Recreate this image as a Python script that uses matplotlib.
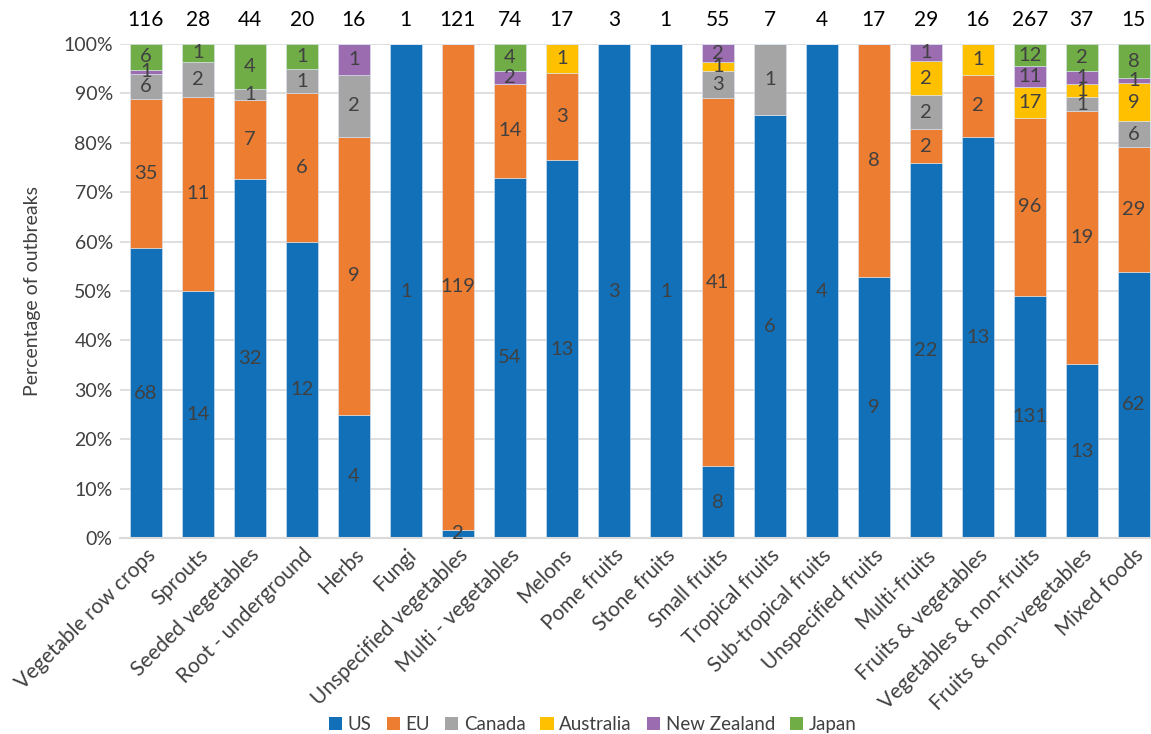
import matplotlib.pyplot as plt
import numpy as np
from matplotlib.ticker import PercentFormatter
from matplotlib.patches import Patch

plt.rcParams['font.family'] = ['Lato', 'DejaVu Sans']

categories = ['Vegetable row crops', 'Sprouts', 'Seeded vegetables', 'Root - underground',
              'Herbs', 'Fungi', 'Unspecified vegetables', 'Multi - vegetables', 'Melons',
              'Pome fruits', 'Stone fruits', 'Small fruits', 'Tropical fruits',
              'Sub-tropical fruits', 'Unspecified fruits', 'Multi-fruits',
              'Fruits & vegetables', 'Vegetables & non-fruits', 'Fruits & non-vegetables',
              'Mixed foods']

us          = [68, 14, 32, 12, 4, 1, 2, 54, 13, 3, 1, 8, 6, 4, 9, 22, 13, 131, 13, 62]
eu          = [35, 11, 7, 6, 9, 0, 119, 14, 3, 0, 0, 41, 0, 0, 8, 2, 2, 96, 19, 29]
canada      = [6, 2, 1, 1, 2, 0, 0, 0, 0, 0, 0, 3, 1, 0, 0, 2, 0, 0, 1, 6]
australia   = [0, 0, 0, 0, 0, 0, 0, 0, 1, 0, 0, 1, 0, 0, 0, 2, 1, 17, 1, 9]
new_zealand = [1, 0, 0, 0, 1, 0, 0, 2, 0, 0, 0, 2, 0, 0, 0, 1, 0, 11, 1, 1]
japan       = [6, 1, 4, 1, 0, 0, 0, 4, 0, 0, 0, 0, 0, 0, 0, 0, 0, 12, 2, 8]

# outbreak counts printed above each column
totals = [116, 28, 44, 20, 16, 1, 121, 74, 17, 3, 1, 55, 7, 4, 17, 29, 16, 267, 37, 15]

series = [('US', us, '#1170b8'),
          ('EU', eu, '#ed7d31'),
          ('Canada', canada, '#a5a5a5'),
          ('Australia', australia, '#ffc000'),
          ('New Zealand', new_zealand, '#9b6cb0'),
          ('Japan', japan, '#70ad47')]

counts = np.array([s[1] for s in series], dtype=float)
row_sum = counts.sum(axis=0)
pct = counts / row_sum * 100

fig = plt.figure(figsize=(11.51, 7.34), dpi=100)
ax = fig.add_axes([0.104, 0.267, 0.9036, 0.673])

x = np.arange(len(categories))
bottom = np.zeros(len(categories))
for (name, vals, color), p in zip(series, pct):
    ax.bar(x, p, width=0.61, bottom=bottom, color=color, edgecolor='#dce6f2',
           linewidth=0.4, label=name, zorder=2)
    for xi, v, b, pp in zip(x, vals, bottom, p):
        if v > 0:
            ax.text(xi, b + pp / 2, str(v), ha='center', va='center',
                    fontsize=14.5, color='#404040', zorder=3)
    bottom += p

for xi, t in zip(x, totals):
    ax.text(xi, 104.8, str(t), ha='center', va='center', fontsize=15, color='black')

ax.set_xlim(-0.5, len(categories) - 0.5)
ax.set_ylim(0, 100)
ax.set_yticks(np.arange(0, 101, 10))
ax.yaxis.set_major_formatter(PercentFormatter(decimals=0))
ax.yaxis.grid(True, color='#d9d9d9', linewidth=1.2, zorder=0)
ax.set_axisbelow(True)
for side in ['top', 'right', 'left']:
    ax.spines[side].set_visible(False)
ax.spines['bottom'].set_color('#d9d9d9')
ax.spines['bottom'].set_linewidth(1.5)
ax.tick_params(axis='both', length=0, labelsize=14, labelcolor='#404040')
ax.tick_params(axis='y', pad=5)

ax.set_xticks(x)
ax.set_xticklabels(categories, rotation=45, ha='right', rotation_mode='anchor',
                   fontsize=15, color='#404040')
ax.tick_params(axis='x', pad=5)
ax.set_ylabel('Percentage of outbreaks', fontsize=14, color='#404040', labelpad=16)

handles = [Patch(facecolor=c, label=n) for n, _, c in series]
fig.legend(handles=handles, loc='center', bbox_to_anchor=(0.515, 0.013), ncol=6,
           frameon=False, fontsize=13.5, handlelength=0.7, handleheight=0.7,
           handletextpad=0.3, columnspacing=0.8, labelcolor='#404040')

fig.savefig('out.png', dpi=100)
